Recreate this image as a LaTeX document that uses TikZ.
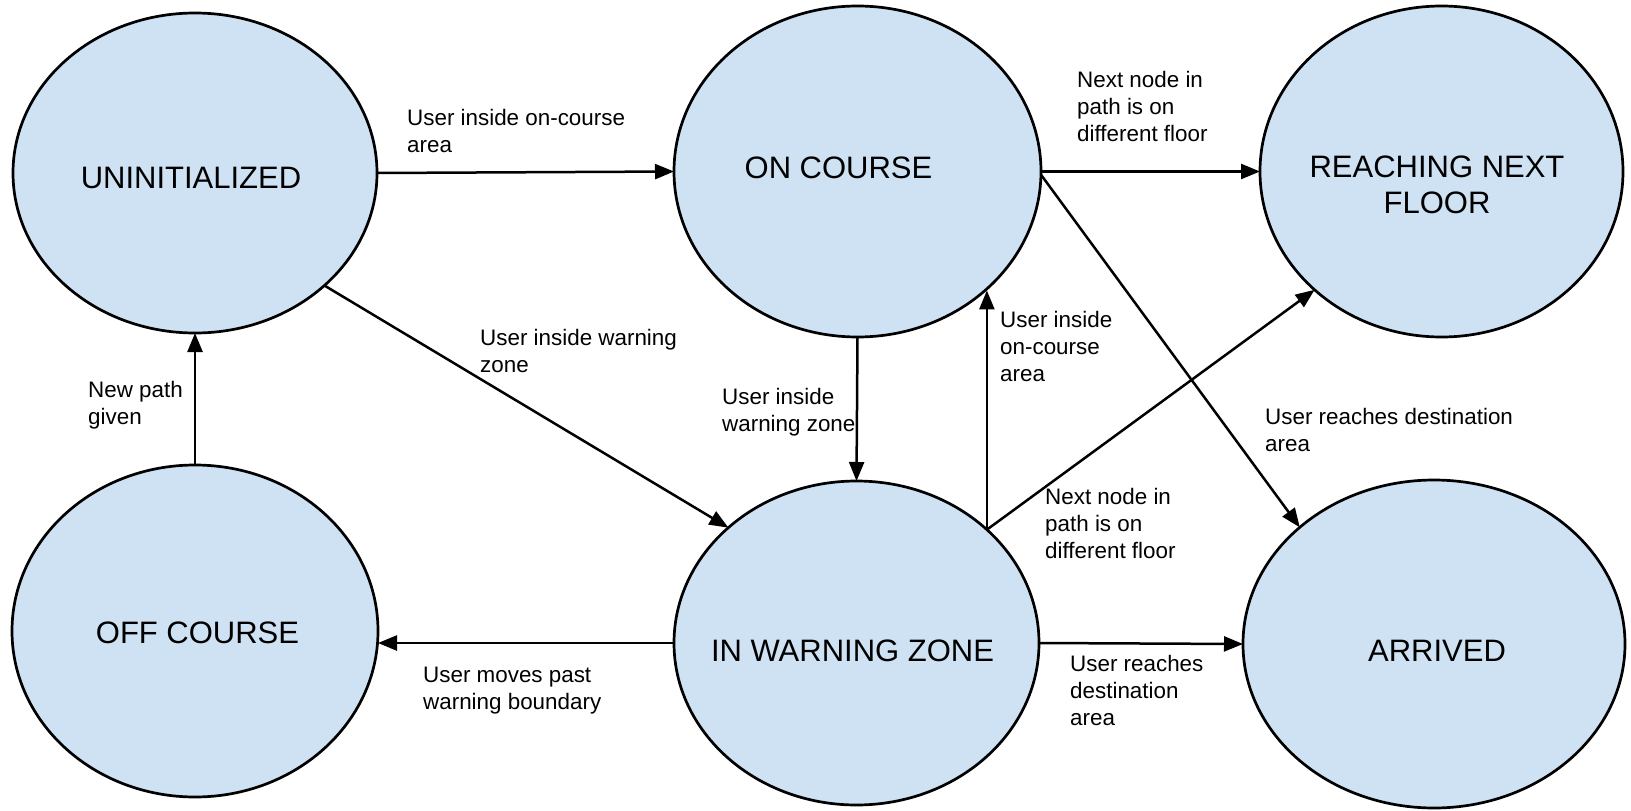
\documentclass[tikz,border=0pt]{standalone}
\usepackage{fontspec}
\setmainfont{Liberation Sans}
\usetikzlibrary{shapes.geometric,arrows.meta}
\definecolor{stfill}{HTML}{CFE2F3}
\tikzset{
  stellipse/.style={ellipse, draw=black, fill=stfill, line width=2.7pt, inner sep=0pt, outer sep=0pt},
  sttext/.style={font=\fontsize{31}{36}\selectfont, inner sep=0pt, align=center},
  lab/.style={font=\fontsize{22.4}{27}\selectfont, inner sep=0pt, align=left, anchor=base west},
  arr/.style={line width=2.5pt, -{Triangle[length=19pt,width=15pt]}}
}
\begin{document}
\begin{tikzpicture}[x=1pt,y=-1pt]
\useasboundingbox (0,0) rectangle (1631,811);
% states
\node[stellipse, minimum width=364pt, minimum height=320pt] (un) at (195,173) {};
\node[stellipse, minimum width=367pt, minimum height=331pt] (oc) at (857.5,171.5) {};
\node[stellipse, minimum width=363pt, minimum height=331pt] (rnf) at (1441.5,171.5) {};
\node[stellipse, minimum width=366pt, minimum height=332pt] (off) at (195,631) {};
\node[stellipse, minimum width=365pt, minimum height=324pt] (iwz) at (856.5,643) {};
\node[stellipse, minimum width=382pt, minimum height=328pt] (arr) at (1434,644) {};
% state texts
\node[sttext, anchor=base] (untx) at (191,188) {UNINITIALIZED};
\node[sttext, anchor=base] (octx) at (838.5,178) {ON COURSE};
\node[sttext, anchor=center] (rnftx) at (1437,185) {REACHING NEXT\\FLOOR};
\node[sttext, anchor=base] (offtx) at (197.5,643) {OFF COURSE};
\node[sttext, anchor=base] (iwztx) at (852.5,661) {IN WARNING ZONE};
\node[sttext, anchor=base] (arrtx) at (1437,661) {ARRIVED};
% connectors
\draw[arr] (un.east) -- (oc.west);
\draw[arr] (oc.east) -- (rnf.west);
\draw[arr] (un.-41) -- (iwz.138.9);
\draw[arr] (oc.south) -- (iwz.north);
\draw[arr] (iwz.41.8) -- (iwz.41.8 |- oc.-43);
\draw[arr] (iwz.41.8) -- (rnf.-137.3);
\draw[arr] (oc.-1.7) -- (arr.139.1);
\draw[arr] (iwz.east) -- (arr.west);
\draw[arr] (iwz.west) -- (iwz.west -| off.east);
\draw[arr] (off.north) -- (un.south);
% labels (anchor at baseline of last line)
\node[lab] (l1) at (407,152) {User inside on-course\\area};
\node[lab] (l2) at (480,372) {User inside warning\\zone};
\node[lab] (l3) at (88,424) {New path\\given};
\node[lab] (l4) at (423,709) {User moves past\\warning boundary};
\node[lab] (l5) at (1077,141) {Next node in\\path is on\\different floor};
\node[lab] (l6) at (1000,381) {User inside\\on-course\\area};
\node[lab] (l7) at (722,431) {User inside\\warning zone};
\node[lab] (l8) at (1265,451) {User reaches destination\\area};
\node[lab] (l9) at (1045,558) {Next node in\\path is on\\different floor};
\node[lab] (l10) at (1070,725) {User reaches\\destination\\area};
\end{tikzpicture}
\end{document}
